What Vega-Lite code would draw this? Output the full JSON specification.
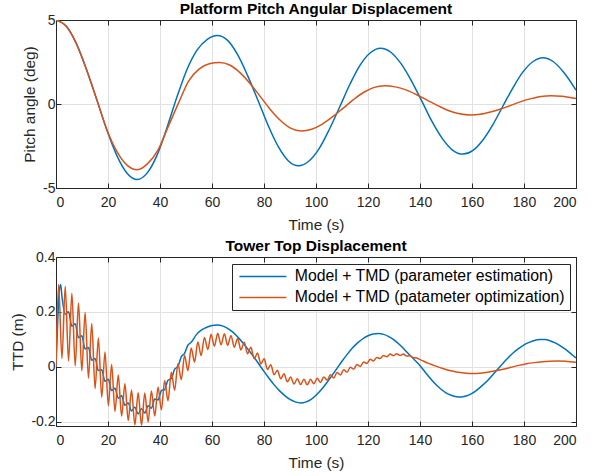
{
  "$schema": "https://vega.github.io/schema/vega-lite/v6.json",
  "padding": {"left": 10, "top": 1, "right": 5, "bottom": 0},
  "background": "white",
  "config": {
    "font": "Liberation Sans",
    "view": {"stroke": null},
    "axis": {
      "domainColor": "#262626", "tickColor": "#262626", "labelColor": "#262626", "titleColor": "#262626",
      "labelFontSize": 14, "titleFontSize": 15.4, "titleFontWeight": "normal", "tickSize": -5,
      "gridColor": "#e1e1e1", "labelFont": "Liberation Sans", "titleFont": "Liberation Sans"
    },
    "title": {"fontSize": 15.5, "fontWeight": "bold", "color": "#000000", "font": "Liberation Sans", "offset": -4},
    "line": {"strokeWidth": 1.5, "interpolate": "monotone"}
  },
  "bounds": "flush",
  "spacing": 69,
  "resolve": {"scale": {"color": "independent"}, "legend": {"color": "independent"}},
  "datasets": {
    "pitch": [
      {"t":0,"v":5,"s":"E"},{"t":3.9,"v":4.64,"s":"E"},{"t":7.8,"v":3.61,"s":"E"},{"t":11.7,"v":2.07,"s":"E"},{"t":15.7,"v":0.26,"s":"E"},{"t":19.6,"v":-1.56,"s":"E"},{"t":23.5,"v":-3.1,"s":"E"},{"t":27.4,"v":-4.13,"s":"E"},{"t":31.3,"v":-4.49,"s":"E"},{"t":35.1,"v":-4.1,"s":"E"},{"t":39,"v":-3.0,"s":"E"},{"t":42.8,"v":-1.35,"s":"E"},{"t":46.7,"v":0.5,"s":"E"},{"t":50.5,"v":2.1,"s":"E"},{"t":54.3,"v":3.22,"s":"E"},{"t":58.2,"v":3.85,"s":"E"},{"t":62,"v":4.07,"s":"E"},{"t":65.9,"v":3.8,"s":"E"},{"t":69.8,"v":2.95,"s":"E"},{"t":73.7,"v":1.69,"s":"E"},{"t":77.7,"v":0.21,"s":"E"},{"t":81.6,"v":-1.28,"s":"E"},{"t":85.5,"v":-2.54,"s":"E"},{"t":89.4,"v":-3.39,"s":"E"},{"t":93.3,"v":-3.68,"s":"E"},{"t":97.2,"v":-3.41,"s":"E"},{"t":101.2,"v":-2.66,"s":"E"},{"t":105.1,"v":-1.52,"s":"E"},{"t":109.1,"v":-0.18,"s":"E"},{"t":113,"v":1.16,"s":"E"},{"t":116.9,"v":2.3,"s":"E"},{"t":120.9,"v":3.05,"s":"E"},{"t":124.8,"v":3.32,"s":"E"},{"t":128.8,"v":3.08,"s":"E"},{"t":132.7,"v":2.4,"s":"E"},{"t":136.7,"v":1.38,"s":"E"},{"t":140.7,"v":0.17,"s":"E"},{"t":144.6,"v":-1.04,"s":"E"},{"t":148.6,"v":-2.06,"s":"E"},{"t":152.5,"v":-2.74,"s":"E"},{"t":156.5,"v":-2.98,"s":"E"},{"t":160.4,"v":-2.76,"s":"E"},{"t":164.2,"v":-2.14,"s":"E"},{"t":168.1,"v":-1.21,"s":"E"},{"t":171.9,"v":-0.12,"s":"E"},{"t":175.8,"v":0.98,"s":"E"},{"t":179.6,"v":1.91,"s":"E"},{"t":183.5,"v":2.53,"s":"E"},{"t":187.3,"v":2.75,"s":"E"},{"t":191.2,"v":2.53,"s":"E"},{"t":195.1,"v":1.92,"s":"E"},{"t":200,"v":0.83,"s":"E"},
      {"t":0,"v":5,"s":"O"},{"t":3.9,"v":4.63,"s":"O"},{"t":7.8,"v":3.6,"s":"O"},{"t":11.7,"v":2.05,"s":"O"},{"t":15.7,"v":0.24,"s":"O"},{"t":19.6,"v":-1.55,"s":"O"},{"t":23.5,"v":-2.85,"s":"O"},{"t":27.4,"v":-3.65,"s":"O"},{"t":31.3,"v":-3.91,"s":"O"},{"t":35.25,"v":-3.55,"s":"O"},{"t":39.2,"v":-2.75,"s":"O"},{"t":43.15,"v":-1.35,"s":"O"},{"t":47.1,"v":0.05,"s":"O"},{"t":51.05,"v":1.38,"s":"O"},{"t":55,"v":2.08,"s":"O"},{"t":58.95,"v":2.4,"s":"O"},{"t":62.9,"v":2.47,"s":"O"},{"t":66.8,"v":2.32,"s":"O"},{"t":70.75,"v":1.87,"s":"O"},{"t":74.7,"v":1.21,"s":"O"},{"t":78.6,"v":0.44,"s":"O"},{"t":82.5,"v":-0.34,"s":"O"},{"t":86.45,"v":-1.0,"s":"O"},{"t":90.4,"v":-1.45,"s":"O"},{"t":94.3,"v":-1.6,"s":"O"},{"t":98.3,"v":-1.5,"s":"O"},{"t":102.3,"v":-1.21,"s":"O"},{"t":106.3,"v":-0.77,"s":"O"},{"t":110.35,"v":-0.26,"s":"O"},{"t":114.4,"v":0.26,"s":"O"},{"t":118.4,"v":0.7,"s":"O"},{"t":122.4,"v":0.99,"s":"O"},{"t":126.4,"v":1.09,"s":"O"},{"t":130.5,"v":1.02,"s":"O"},{"t":134.6,"v":0.84,"s":"O"},{"t":138.7,"v":0.55,"s":"O"},{"t":142.85,"v":0.22,"s":"O"},{"t":147,"v":-0.11,"s":"O"},{"t":151.1,"v":-0.4,"s":"O"},{"t":155.2,"v":-0.58,"s":"O"},{"t":159.3,"v":-0.65,"s":"O"},{"t":163.2,"v":-0.61,"s":"O"},{"t":167.1,"v":-0.48,"s":"O"},{"t":171,"v":-0.3,"s":"O"},{"t":174.9,"v":-0.08,"s":"O"},{"t":178.8,"v":0.14,"s":"O"},{"t":182.7,"v":0.32,"s":"O"},{"t":186.6,"v":0.45,"s":"O"},{"t":190.5,"v":0.49,"s":"O"},{"t":194.4,"v":0.46,"s":"O"},{"t":198.3,"v":0.37,"s":"O"},{"t":200,"v":0.33,"s":"O"}
    ],
    "ttd": [
      {"t":0,"v":0,"s":"E"},{"t":0.6,"v":0.15,"s":"E"},{"t":1.2,"v":0.27,"s":"E"},{"t":1.8,"v":0.3,"s":"E"},{"t":2.3,"v":0.255,"s":"E"},{"t":3.55,"v":0.191,"s":"E"},{"t":4.83,"v":0.2,"s":"E"},{"t":6.1,"v":0.148,"s":"E"},{"t":7.38,"v":0.157,"s":"E"},{"t":8.65,"v":0.106,"s":"E"},{"t":9.93,"v":0.113,"s":"E"},{"t":11.2,"v":0.065,"s":"E"},{"t":12.48,"v":0.07,"s":"E"},{"t":13.75,"v":0.024,"s":"E"},{"t":15.03,"v":0.03,"s":"E"},{"t":16.3,"v":-0.014,"s":"E"},{"t":17.58,"v":-0.011,"s":"E"},{"t":18.85,"v":-0.053,"s":"E"},{"t":20.13,"v":-0.046,"s":"E"},{"t":21.4,"v":-0.087,"s":"E"},{"t":22.68,"v":-0.078,"s":"E"},{"t":23.95,"v":-0.115,"s":"E"},{"t":25.23,"v":-0.106,"s":"E"},{"t":26.5,"v":-0.14,"s":"E"},{"t":27.78,"v":-0.132,"s":"E"},{"t":29.05,"v":-0.161,"s":"E"},{"t":30.33,"v":-0.148,"s":"E"},{"t":31.6,"v":-0.172,"s":"E"},{"t":32.88,"v":-0.153,"s":"E"},{"t":34.15,"v":-0.169,"s":"E"},{"t":35.43,"v":-0.142,"s":"E"},{"t":36.7,"v":-0.151,"s":"E"},{"t":37.98,"v":-0.118,"s":"E"},{"t":39.25,"v":-0.121,"s":"E"},{"t":40.53,"v":-0.087,"s":"E"},{"t":41.8,"v":-0.083,"s":"E"},{"t":43.08,"v":-0.049,"s":"E"},{"t":44.35,"v":-0.043,"s":"E"},{"t":45.63,"v":-0.009,"s":"E"},{"t":46.9,"v":0.001,"s":"E"},{"t":48.18,"v":0.036,"s":"E"},{"t":49.45,"v":0.049,"s":"E"},{"t":50.73,"v":0.079,"s":"E"},{"t":52,"v":0.089,"s":"E"},{"t":54,"v":0.117,"s":"E"},{"t":56,"v":0.134,"s":"E"},{"t":58,"v":0.144,"s":"E"},{"t":60,"v":0.15,"s":"E"},{"t":62,"v":0.152,"s":"E"},{"t":64,"v":0.149,"s":"E"},{"t":66,"v":0.14,"s":"E"},{"t":68,"v":0.126,"s":"E"},{"t":70,"v":0.107,"s":"E"},{"t":72,"v":0.086,"s":"E"},{"t":74,"v":0.062,"s":"E"},{"t":76,"v":0.037,"s":"E"},{"t":78,"v":0.01,"s":"E"},{"t":80,"v":-0.017,"s":"E"},{"t":82,"v":-0.043,"s":"E"},{"t":84,"v":-0.067,"s":"E"},{"t":86,"v":-0.088,"s":"E"},{"t":88,"v":-0.105,"s":"E"},{"t":90,"v":-0.119,"s":"E"},{"t":92,"v":-0.128,"s":"E"},{"t":94,"v":-0.132,"s":"E"},{"t":96,"v":-0.129,"s":"E"},{"t":98,"v":-0.12,"s":"E"},{"t":100,"v":-0.104,"s":"E"},{"t":102,"v":-0.084,"s":"E"},{"t":104,"v":-0.06,"s":"E"},{"t":106,"v":-0.034,"s":"E"},{"t":108,"v":-0.007,"s":"E"},{"t":110,"v":0.02,"s":"E"},{"t":112,"v":0.045,"s":"E"},{"t":114,"v":0.068,"s":"E"},{"t":116,"v":0.087,"s":"E"},{"t":118,"v":0.102,"s":"E"},{"t":120,"v":0.113,"s":"E"},{"t":122,"v":0.119,"s":"E"},{"t":124,"v":0.121,"s":"E"},{"t":126,"v":0.118,"s":"E"},{"t":128,"v":0.11,"s":"E"},{"t":130,"v":0.098,"s":"E"},{"t":132,"v":0.082,"s":"E"},{"t":134,"v":0.063,"s":"E"},{"t":136,"v":0.043,"s":"E"},{"t":138,"v":0.024,"s":"E"},{"t":140,"v":0.004,"s":"E"},{"t":142,"v":-0.02,"s":"E"},{"t":144,"v":-0.043,"s":"E"},{"t":146,"v":-0.064,"s":"E"},{"t":148,"v":-0.081,"s":"E"},{"t":150,"v":-0.095,"s":"E"},{"t":152,"v":-0.104,"s":"E"},{"t":154,"v":-0.109,"s":"E"},{"t":156,"v":-0.11,"s":"E"},{"t":158,"v":-0.106,"s":"E"},{"t":160,"v":-0.097,"s":"E"},{"t":162,"v":-0.084,"s":"E"},{"t":164,"v":-0.068,"s":"E"},{"t":166,"v":-0.05,"s":"E"},{"t":168,"v":-0.029,"s":"E"},{"t":170,"v":-0.008,"s":"E"},{"t":172,"v":0.014,"s":"E"},{"t":174,"v":0.034,"s":"E"},{"t":176,"v":0.052,"s":"E"},{"t":178,"v":0.067,"s":"E"},{"t":180,"v":0.08,"s":"E"},{"t":182,"v":0.089,"s":"E"},{"t":184,"v":0.096,"s":"E"},{"t":186,"v":0.099,"s":"E"},{"t":188,"v":0.099,"s":"E"},{"t":190,"v":0.095,"s":"E"},{"t":192,"v":0.087,"s":"E"},{"t":194,"v":0.076,"s":"E"},{"t":196,"v":0.063,"s":"E"},{"t":198,"v":0.048,"s":"E"},{"t":200,"v":0.032,"s":"E"},
      {"t":0,"v":0,"s":"O"},{"t":1.0,"v":0.3,"s":"O"},{"t":2.28,"v":0.03,"s":"O"},{"t":3.55,"v":0.293,"s":"O"},{"t":4.83,"v":0.021,"s":"O"},{"t":6.1,"v":0.268,"s":"O"},{"t":7.38,"v":0.003,"s":"O"},{"t":8.65,"v":0.232,"s":"O"},{"t":9.93,"v":-0.015,"s":"O"},{"t":11.2,"v":0.198,"s":"O"},{"t":12.48,"v":-0.042,"s":"O"},{"t":13.75,"v":0.158,"s":"O"},{"t":15.03,"v":-0.08,"s":"O"},{"t":16.3,"v":0.105,"s":"O"},{"t":17.58,"v":-0.111,"s":"O"},{"t":18.85,"v":0.054,"s":"O"},{"t":20.13,"v":-0.142,"s":"O"},{"t":21.4,"v":0.008,"s":"O"},{"t":22.68,"v":-0.163,"s":"O"},{"t":23.95,"v":-0.03,"s":"O"},{"t":25.23,"v":-0.18,"s":"O"},{"t":26.5,"v":-0.062,"s":"O"},{"t":27.78,"v":-0.196,"s":"O"},{"t":29.05,"v":-0.085,"s":"O"},{"t":30.33,"v":-0.212,"s":"O"},{"t":31.6,"v":-0.095,"s":"O"},{"t":32.88,"v":-0.213,"s":"O"},{"t":34.15,"v":-0.096,"s":"O"},{"t":35.43,"v":-0.201,"s":"O"},{"t":36.7,"v":-0.088,"s":"O"},{"t":37.98,"v":-0.18,"s":"O"},{"t":39.25,"v":-0.074,"s":"O"},{"t":40.53,"v":-0.157,"s":"O"},{"t":41.8,"v":-0.05,"s":"O"},{"t":43.08,"v":-0.124,"s":"O"},{"t":44.35,"v":-0.02,"s":"O"},{"t":45.63,"v":-0.086,"s":"O"},{"t":46.9,"v":0.011,"s":"O"},{"t":48.18,"v":-0.047,"s":"O"},{"t":49.45,"v":0.041,"s":"O"},{"t":50.73,"v":-0.014,"s":"O"},{"t":52,"v":0.068,"s":"O"},{"t":53.28,"v":0.017,"s":"O"},{"t":54.55,"v":0.09,"s":"O"},{"t":55.83,"v":0.041,"s":"O"},{"t":57.1,"v":0.107,"s":"O"},{"t":58.38,"v":0.063,"s":"O"},{"t":59.65,"v":0.118,"s":"O"},{"t":60.93,"v":0.075,"s":"O"},{"t":62.2,"v":0.122,"s":"O"},{"t":63.48,"v":0.08,"s":"O"},{"t":64.75,"v":0.12,"s":"O"},{"t":66.03,"v":0.078,"s":"O"},{"t":67.3,"v":0.114,"s":"O"},{"t":68.58,"v":0.071,"s":"O"},{"t":69.85,"v":0.103,"s":"O"},{"t":71.13,"v":0.061,"s":"O"},{"t":72.4,"v":0.089,"s":"O"},{"t":73.68,"v":0.047,"s":"O"},{"t":74.95,"v":0.071,"s":"O"},{"t":76.23,"v":0.029,"s":"O"},{"t":77.5,"v":0.05,"s":"O"},{"t":78.78,"v":0.01,"s":"O"},{"t":80.05,"v":0.029,"s":"O"},{"t":81.33,"v":-0.01,"s":"O"},{"t":82.6,"v":0.007,"s":"O"},{"t":83.88,"v":-0.029,"s":"O"},{"t":85.15,"v":-0.013,"s":"O"},{"t":86.43,"v":-0.044,"s":"O"},{"t":87.7,"v":-0.026,"s":"O"},{"t":88.98,"v":-0.055,"s":"O"},{"t":90.25,"v":-0.037,"s":"O"},{"t":91.53,"v":-0.063,"s":"O"},{"t":92.8,"v":-0.044,"s":"O"},{"t":94.08,"v":-0.065,"s":"O"},{"t":95.35,"v":-0.046,"s":"O"},{"t":96.63,"v":-0.066,"s":"O"},{"t":97.9,"v":-0.046,"s":"O"},{"t":99.18,"v":-0.062,"s":"O"},{"t":100.45,"v":-0.042,"s":"O"},{"t":101.73,"v":-0.057,"s":"O"},{"t":103,"v":-0.037,"s":"O"},{"t":104.28,"v":-0.049,"s":"O"},{"t":105.55,"v":-0.029,"s":"O"},{"t":106.83,"v":-0.041,"s":"O"},{"t":108.1,"v":-0.021,"s":"O"},{"t":109.38,"v":-0.03,"s":"O"},{"t":110.65,"v":-0.011,"s":"O"},{"t":111.93,"v":-0.02,"s":"O"},{"t":113.2,"v":-0.002,"s":"O"},{"t":114.48,"v":-0.009,"s":"O"},{"t":115.75,"v":0.008,"s":"O"},{"t":117.03,"v":0.001,"s":"O"},{"t":118.3,"v":0.017,"s":"O"},{"t":119.58,"v":0.012,"s":"O"},{"t":120.85,"v":0.027,"s":"O"},{"t":122.13,"v":0.021,"s":"O"},{"t":123.4,"v":0.034,"s":"O"},{"t":124.68,"v":0.03,"s":"O"},{"t":125.95,"v":0.041,"s":"O"},{"t":127.23,"v":0.036,"s":"O"},{"t":128.5,"v":0.046,"s":"O"},{"t":129.78,"v":0.04,"s":"O"},{"t":131.05,"v":0.047,"s":"O"},{"t":132.33,"v":0.041,"s":"O"},{"t":133.6,"v":0.046,"s":"O"},{"t":134.88,"v":0.039,"s":"O"},{"t":136.15,"v":0.04,"s":"O"},{"t":137.43,"v":0.033,"s":"O"},{"t":138.7,"v":0.032,"s":"O"},{"t":139.98,"v":0.026,"s":"O"},{"t":141.25,"v":0.021,"s":"O"},{"t":143,"v":0.013,"s":"O"},{"t":145,"v":0.006,"s":"O"},{"t":148,"v":-0.004,"s":"O"},{"t":151,"v":-0.013,"s":"O"},{"t":154,"v":-0.019,"s":"O"},{"t":157,"v":-0.023,"s":"O"},{"t":160,"v":-0.025,"s":"O"},{"t":163,"v":-0.024,"s":"O"},{"t":166,"v":-0.02,"s":"O"},{"t":169,"v":-0.015,"s":"O"},{"t":172,"v":-0.009,"s":"O"},{"t":175,"v":-0.002,"s":"O"},{"t":178,"v":0.005,"s":"O"},{"t":181,"v":0.011,"s":"O"},{"t":184,"v":0.015,"s":"O"},{"t":187,"v":0.018,"s":"O"},{"t":190,"v":0.02,"s":"O"},{"t":193,"v":0.021,"s":"O"},{"t":196,"v":0.02,"s":"O"},{"t":200,"v":0.016,"s":"O"}
    ]
  },
  "vconcat": [
    {
      "title": "Platform Pitch Angular Displacement",
      "width": 520,
      "height": 168,
      "data": {"name": "pitch"},
      "resolve": {"axis": {"x": "independent", "y": "independent"}},
      "layer": [
        {
          "mark": {"type": "line", "clip": true},
          "encoding": {
            "x": {"field": "t", "type": "quantitative", "scale": {"domain": [0, 200], "nice": false},
                  "axis": {"values": [0,20,40,60,80,100,120,140,160,180,200], "title": "Time (s)", "grid": true, "labelPadding": 12, "titlePadding": 8, "labelExpr": "toString(datum.value)"}},
            "y": {"field": "v", "type": "quantitative", "scale": {"domain": [-5, 5], "nice": false},
                  "axis": {"values": [-5, 0, 5], "title": "Pitch angle (deg)", "grid": true, "labelPadding": 6, "titlePadding": 5, "labelExpr": "toString(datum.value)"}},
            "color": {"field": "s", "type": "nominal", "scale": {"domain": ["E", "O"], "range": ["#0072BD", "#D95319"]}, "legend": null}
          }
        },
        {
          "mark": {"type": "point", "opacity": 0},
          "encoding": {
            "x": {"field": "t", "type": "quantitative", "scale": {"domain": [0, 200], "nice": false},
                  "axis": {"orient": "top", "values": [0,20,40,60,80,100,120,140,160,180,200], "labels": false, "title": null, "grid": false}},
            "y": {"field": "v", "type": "quantitative", "scale": {"domain": [-5, 5], "nice": false},
                  "axis": {"orient": "right", "values": [-5, 0, 5], "labels": false, "title": null, "grid": false}}
          }
        }
      ]
    },
    {
      "title": "Tower Top Displacement",
      "width": 520,
      "height": 169,
      "data": {"name": "ttd"},
      "resolve": {"axis": {"x": "independent", "y": "independent"}},
      "layer": [
        {
          "mark": {"type": "line", "clip": true},
          "encoding": {
            "x": {"field": "t", "type": "quantitative", "scale": {"domain": [0, 200], "nice": false},
                  "axis": {"values": [0,20,40,60,80,100,120,140,160,180,200], "title": "Time (s)", "grid": true, "labelPadding": 12, "titlePadding": 8, "labelExpr": "toString(datum.value)"}},
            "y": {"field": "v", "type": "quantitative", "scale": {"domain": [-0.216, 0.4], "nice": false, "zero": false},
                  "axis": {"values": [-0.2, 0, 0.2, 0.4], "title": "TTD (m)", "grid": true, "labelPadding": 6, "titlePadding": 5, "labelExpr": "toString(datum.value)"}},
            "color": {"field": "s", "type": "nominal", "scale": {"domain": ["E", "O"], "range": ["#0072BD", "#D95319"]},
                      "legend": {"orient": "top-right", "title": null, "offset": 6.5,
                                 "labelExpr": "datum.label == 'E' ? 'Model + TMD (parameter estimation)' : 'Model + TMD (patameter optimization)'",
                                 "symbolType": "M-1,0H8.4", "symbolSize": 100, "symbolStrokeWidth": 1.5,
                                 "labelFontSize": 15.8, "labelColor": "#000000", "labelFont": "Liberation Sans", "labelLimit": 0, "labelOffset": 42.5,
                                 "strokeColor": "#262626", "fillColor": "#ffffff", "padding": 4.5, "rowPadding": 4, "cornerRadius": 0}}
          }
        },
        {
          "mark": {"type": "point", "opacity": 0},
          "encoding": {
            "x": {"field": "t", "type": "quantitative", "scale": {"domain": [0, 200], "nice": false},
                  "axis": {"orient": "top", "values": [0,20,40,60,80,100,120,140,160,180,200], "labels": false, "title": null, "grid": false}},
            "y": {"field": "v", "type": "quantitative", "scale": {"domain": [-0.216, 0.4], "nice": false, "zero": false},
                  "axis": {"orient": "right", "values": [-0.2, 0, 0.2, 0.4], "labels": false, "title": null, "grid": false}}
          }
        }
      ]
    }
  ]
}
